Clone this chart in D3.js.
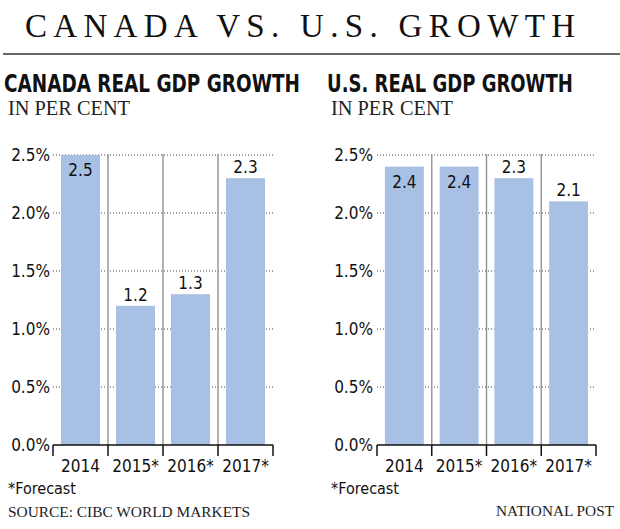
<!DOCTYPE html>
<html><head><meta charset="utf-8">
<script src="https://cdn.jsdelivr.net/npm/d3@7"></script>
<style>
html,body{margin:0;padding:0;background:#fff;}
svg{display:block;}
</style></head>
<body>
<script>
const categories = ["2014", "2015*", "2016*", "2017*"];
const canadaValues = [2.5, 1.2, 1.3, 2.3];
const usValues = [2.4, 2.4, 2.3, 2.1];
const yTicks = [0, 0.5, 1.0, 1.5, 2.0, 2.5];
const panelTitles = ["CANADA REAL GDP GROWTH", "U.S. REAL GDP GROWTH"];

const W = 620, H = 529;
const svg = d3.select("body").append("svg").attr("width", W).attr("height", H);
const condensed = "'DejaVu Sans Condensed','Liberation Sans Narrow','Roboto Condensed',Roboto,sans-serif";
const serif = "'Liberation Serif','DejaVu Serif',serif";

// Main title
svg.append("text").attr("x", 25).attr("y", 37)
  .attr("font-family", serif).attr("font-size", 33)
  .attr("textLength", 550).attr("lengthAdjust", "spacing")
  .attr("fill", "#111").text("CANADA VS. U.S. GROWTH");
svg.append("line").attr("x1", 3).attr("x2", 620).attr("y1", 54).attr("y2", 54)
  .attr("stroke", "#666").attr("stroke-width", 2);

const panels = [
  {title: panelTitles[0], values: canadaValues, tx: 4, tw: 296, x0: 53, x1: 273, lab: 50, sub: 8},
  {title: panelTitles[1], values: usValues, tx: 327, tw: 246, x0: 377, x1: 596, lab: 373, sub: 331}
];

const y = d3.scaleLinear().domain([0, 2.5]).range([445, 155]);

panels.forEach(p => {
  const g = svg.append("g");
  const st = g.append("text").attr("x", 0).attr("y", 0)
    .attr("font-family", condensed).attr("font-weight", "bold").attr("font-size", 24)
    .attr("fill", "#111").text(p.title);
  const nat = st.node().getComputedTextLength();
  st.attr("transform", `translate(${p.tx},92) scale(${p.tw / nat},1)`);
  g.append("text").attr("x", p.sub).attr("y", 115)
    .attr("font-family", serif).attr("font-size", 20)
    .attr("textLength", 122).attr("lengthAdjust", "spacingAndGlyphs")
    .attr("fill", "#222").text("IN PER CENT");

  const x = d3.scaleBand().domain(categories).range([p.x0, p.x1]).paddingInner(0.29).paddingOuter(0.145);
  const step = x.step();

  // gridlines
  yTicks.filter(t => t > 0).forEach(t => {
    g.append("line").attr("x1", p.x0).attr("x2", p.x1).attr("y1", y(t)).attr("y2", y(t))
      .attr("stroke", "#444").attr("stroke-width", 1).attr("stroke-dasharray", "1,2");
  });
  // y labels
  const yAxis = d3.axisLeft(y).tickValues(yTicks).tickSize(0).tickPadding(0)
    .tickFormat(d => d3.format(".1f")(d) + "%");
  const ya = g.append("g").attr("transform", `translate(${p.lab},0)`).call(yAxis);
  ya.select(".domain").remove();
  ya.selectAll("text").attr("font-family", condensed).attr("font-size", 17).attr("fill", "#111").attr("dy", "0.35em");

  // separators
  categories.slice(1).forEach(c => {
    const sx = x(c) - step * 0.145;
    g.append("line").attr("x1", sx).attr("x2", sx).attr("y1", 154).attr("y2", 445)
      .attr("stroke", "#999").attr("stroke-width", 1.5);
  });

  // bars
  g.selectAll("rect.bar").data(p.values).join("rect")
    .attr("x", (d, i) => x(categories[i])).attr("width", x.bandwidth())
    .attr("y", d => y(d)).attr("height", d => y(0) - y(d))
    .attr("fill", "#a7c0e4");

  // value labels
  g.selectAll("text.val").data(p.values).join("text")
    .attr("x", (d, i) => x(categories[i]) + x.bandwidth() / 2)
    .attr("y", d => d > 2.35 ? y(d) + 21 : y(d) - 5)
    .attr("text-anchor", "middle").attr("font-family", condensed).attr("font-size", 17)
    .attr("fill", "#111").text(d => d3.format(".1f")(d));

  // x axis
  const xa = d3.scalePoint().domain(d3.range(5)).range([p.x0, p.x1]);
  g.append("line").attr("x1", p.x0).attr("x2", p.x1).attr("y1", 445).attr("y2", 445)
    .attr("stroke", "#111").attr("stroke-width", 1.5);
  d3.range(5).forEach(i => {
    g.append("line").attr("x1", xa(i)).attr("x2", xa(i)).attr("y1", 445).attr("y2", 456)
      .attr("stroke", "#111").attr("stroke-width", 1.5);
  });
  g.selectAll("text.cat").data(categories).join("text")
    .attr("x", c => x(c) + x.bandwidth() / 2).attr("y", 472)
    .attr("text-anchor", "middle").attr("font-family", condensed).attr("font-size", 17)
    .attr("fill", "#111").text(c => c);

  g.append("text").attr("x", p.sub).attr("y", 494)
    .attr("font-family", condensed).attr("font-size", 16).attr("fill", "#111").text("*Forecast");
});

svg.append("text").attr("x", 8).attr("y", 517)
  .attr("font-family", serif).attr("font-size", 14)
  .attr("textLength", 242).attr("lengthAdjust", "spacingAndGlyphs")
  .attr("fill", "#222").text("SOURCE: CIBC WORLD MARKETS");
svg.append("text").attr("x", 614).attr("y", 516).attr("text-anchor", "end")
  .attr("font-family", serif).attr("font-size", 14)
  .attr("textLength", 118).attr("lengthAdjust", "spacingAndGlyphs")
  .attr("fill", "#222").text("NATIONAL POST");
</script>
</body></html>
